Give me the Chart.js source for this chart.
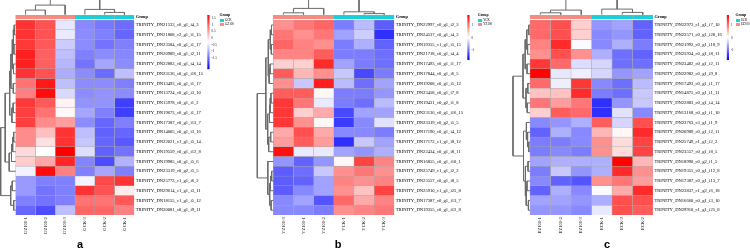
<!DOCTYPE html>
<html><head><meta charset="utf-8">
<script src="https://cdn.jsdelivr.net/npm/chart.js@4.4.1/dist/chart.umd.min.js"></script>
<style>
html,body{margin:0;padding:0;background:#fff;}
#wrap{position:relative;width:750px;height:249px;overflow:hidden;background:#fff;}
#wrap canvas{position:absolute;}
.txt{position:absolute;font-family:"Liberation Serif","Times New Roman",serif;white-space:nowrap;color:#000;}
.box{position:absolute;}
.letter{position:absolute;width:20px;text-align:center;font-family:"Liberation Sans",Arial,sans-serif;font-weight:bold;font-size:11px;line-height:11px;color:#000;}
</style></head><body><div id="wrap"></div>
<script>
// ---------------- DATA ----------------
const rowLabelsA = ["TRINITY_DN21533_c0_g1_i4_3","TRINITY_DN21808_c2_g1_i1_15","TRINITY_DN23584_c0_g1_i1_17","TRINITY_DN20989_c0_g1_i2_11","TRINITY_DN22883_c0_g1_i4_14","TRINITY_DN23136_c0_g1_i16_15","TRINITY_DN13493_c0_g1_i1_17","TRINITY_DN13724_c0_g1_i3_10","TRINITY_DN15978_c0_g1_i1_2","TRINITY_DN19673_c0_g1_i1_17","TRINITY_DN17387_c0_g1_i13_7","TRINITY_DN14005_c0_g1_i3_16","TRINITY_DN22021_c1_g1_i5_14","TRINITY_DN19559_c0_g1_i12_8","TRINITY_DN19985_c0_g1_i5_6","TRINITY_DN23319_c0_g2_i5_5","TRINITY_DN25773_c1_g1_i6_2","TRINITY_DN29614_c1_g1_i3_11","TRINITY_DN18155_c1_g1_i5_12","TRINITY_DN20081_c0_g1_i9_11"];
const colLabelsA = ["GZ100-1","GZ100-2","GZ100-3","GCK-3","GCK-2","GCK-1"];
const groupsA = ["GZ100","GZ100","GZ100","GCK","GCK","GCK"];
const legendA = ["GCK","GZ100"];
const valuesA = [
 [1.34,1.09,-0.50,-1.26,-1.40,-1.50],
 [1.34,1.09,-0.47,-1.24,-1.34,-1.55],
 [1.30,1.03,-0.72,-1.24,-1.44,-1.34],
 [1.50,0.97,-0.83,-1.34,-1.24,-1.28],
 [1.50,0.97,-0.89,-1.44,-1.03,-1.24],
 [1.34,1.09,-0.97,-1.24,-1.50,-0.83],
 [0.82,1.54,-0.83,-1.24,-1.24,-1.34],
 [0.72,1.65,-0.62,-1.24,-1.18,-1.24],
 [1.30,1.03,-0.21,-1.18,-1.18,-1.86],
 [1.24,0.82,-0.25,-1.03,-1.34,-1.86],
 [1.24,0.62,0.47,-1.24,-1.55,-1.34],
 [0.62,0.21,1.34,-0.83,-1.59,-1.55],
 [0.62,-0.06,1.34,-0.76,-1.55,-1.65],
 [0.00,-0.31,1.75,-0.58,-1.59,-1.44],
 [0.10,0.41,1.44,-1.30,-1.75,-0.93],
 [-0.41,1.65,0.72,-1.34,-1.03,-1.34],
 [-1.13,-1.34,-1.34,-0.41,1.17,1.34],
 [-1.13,-1.44,-1.34,1.34,1.09,-0.15],
 [-1.34,-1.44,-1.34,0.82,0.82,1.03],
 [-1.55,-1.75,-0.83,0.93,0.93,0.72]
];
const rowMergeA = [[-1,-2,1.5],[-3,-4,1.8],[1,2,2.6],[-5,-6,2.2],[3,4,3.4],[-7,-8,2.4],[5,6,4.8],[-9,-10,2.6],[8,-11,3.8],[7,9,6.0],[-12,-13,2.0],[11,-14,3.0],[12,-15,4.2],[13,-16,6.5],[10,14,10.5],[-17,-18,3.5],[-19,-20,2.0],[16,17,5.0],[15,18,15]];
const colMergeA = [[-1,-2,4.5],[1,-3,9.5],[-5,-6,2.2],[-4,3,5.2],[2,4,20]];
const scaleRangeA = [-2.37, 1.75];
const scaleTicksA = [1.5,1,0.5,0,-0.5,-1,-1.5];

const rowLabelsB = ["TRINITY_DN22997_c0_g1_i2_3","TRINITY_DN24537_c0_g1_i4_3","TRINITY_DN19355_c1_g1_i5_15","TRINITY_DN21718_c0_g1_i4_4","TRINITY_DN17493_c0_g1_i1_17","TRINITY_DN17844_c0_g1_i6_5","TRINITY_DN19208_c0_g1_i5_12","TRINITY_DN23458_c0_g1_i7_8","TRINITY_DN19431_c0_g2_i1_8","TRINITY_DN23136_c0_g1_i16_15","TRINITY_DN23319_c0_g2_i5_5","TRINITY_DN17190_c0_g1_i4_12","TRINITY_DN17172_c1_g1_i8_12","TRINITY_DN22434_c0_g1_i8_11","TRINITY_DN16855_c0_g1_i10_1","TRINITY_DN25749_c1_g1_i2_2","TRINITY_DN23557_c0_g1_i8_5","TRINITY_DN25910_c1_g1_i25_8","TRINITY_DN17387_c0_g1_i13_7","TRINITY_DN19355_c0_g1_i12_8"];
const colLabelsB = ["YZ100-3","YZ100-1","YZ100-2","YCK-1","YCK-2","YCK-3"];
const groupsB = ["YZ100","YZ100","YZ100","YCK","YCK","YCK"];
const legendB = ["YCK","YZ100"];
const valuesB = [
 [0.80,0.98,1.10,-0.89,-0.45,-1.10],
 [0.98,0.80,0.98,-0.62,-0.32,-1.42],
 [1.10,0.89,0.80,-0.89,-0.53,-1.07],
 [0.89,0.89,1.16,-0.89,-0.89,-0.98],
 [0.36,0.36,1.51,-0.62,-0.89,-0.98],
 [1.16,0.53,0.80,-0.36,-1.25,-0.89],
 [0.80,-0.36,1.60,-0.45,-0.98,-0.62],
 [1.16,1.16,0.09,-0.89,-0.89,-0.71],
 [1.42,0.98,-0.12,-0.89,-0.98,-0.45],
 [1.42,0.36,0.62,-1.25,-0.62,-0.62],
 [1.42,0.80,0.09,-1.34,-0.80,-0.18],
 [0.62,1.25,0.62,-0.80,-0.80,-0.89],
 [0.71,1.16,0.71,-1.42,-0.36,-0.62],
 [1.69,-0.12,-0.12,-0.62,-0.71,-0.53],
 [-0.71,-1.07,-0.71,0.09,1.34,0.89],
 [-1.10,-0.98,-0.36,0.80,0.98,0.80],
 [-1.10,-1.07,-0.62,0.89,0.80,0.89],
 [-1.10,-0.80,-0.62,0.80,0.45,1.34],
 [-0.80,-0.62,-1.16,1.07,0.62,0.89],
 [-0.80,-0.80,-0.89,0.80,0.89,0.98]
];
const rowMergeB = [[-1,-2,1.8],[-3,-4,2.0],[1,2,3.0],[-5,-6,3.2],[4,-7,4.2],[3,5,5.0],[-8,-9,2.4],[7,-10,3.2],[8,-11,3.8],[-12,-13,2.6],[10,-14,4.6],[9,11,5.6],[6,12,7.5],[-16,-17,1.6],[14,-18,2.8],[-19,-20,2.2],[15,16,3.6],[-15,17,5.5],[13,18,16]];
const colMergeB = [[-1,-2,1.8],[1,-3,6.2],[-5,-6,1.0],[-4,3,2.8],[2,4,20]];
const scaleRangeB = [-1.75, 1.8];
const scaleTicksB = [1,0,-1];

const rowLabelsC = ["TRINITY_DN22973_c1_g1_i7_10","TRINITY_DN23571_c0_g1_i28_16","TRINITY_DN21992_c0_g1_i18_9","TRINITY_DN25934_c0_g1_i8_11","TRINITY_DN23482_c0_g1_i2_11","TRINITY_DN22982_c0_g1_i9_8","TRINITY_DN17493_c0_g1_i1_17","TRINITY_DN14875_c0_g1_i1_11","TRINITY_DN22883_c0_g1_i4_14","TRINITY_DN13168_c0_g1_i1_10","TRINITY_DN23763_c3_g1_i1_9","TRINITY_DN20989_c0_g1_i2_11","TRINITY_DN25749_c1_g1_i2_2","TRINITY_DN23557_c0_g1_i8_5","TRINITY_DN18990_c0_g2_i1_5","TRINITY_DN19355_c0_g1_i12_8","TRINITY_DN17387_c0_g1_i13_7","TRINITY_DN23837_c1_g2_i6_18","TRINITY_DN16660_c0_g1_i3_10","TRINITY_DN29910_c1_g1_i25_8"];
const colLabelsC = ["EZ100-1","EZ100-2","EZ100-3","ECK-1","ECK-3","ECK-2"];
const groupsC = ["EZ100","EZ100","EZ100","ECK","ECK","ECK"];
const legendC = ["ECK","EZ100"];
const valuesC = [
 [1.07,1.25,0.36,-0.71,-0.62,-1.07],
 [1.07,1.25,0.36,-0.80,-0.71,-1.07],
 [0.89,1.51,0.00,-0.80,-0.53,-0.89],
 [0.80,1.25,0.80,-0.53,-0.98,-1.07],
 [1.42,1.07,-0.21,-0.27,-0.98,-0.98],
 [1.78,-0.14,-0.09,-0.27,-0.71,-0.62],
 [1.07,-0.09,1.42,-0.80,-0.98,-0.45],
 [0.45,0.45,1.51,-0.89,-0.98,-0.36],
 [0.98,0.71,0.98,-1.42,-0.71,-0.36],
 [0.36,1.16,1.07,-1.42,-0.18,-0.80],
 [-0.80,-0.71,-0.53,1.16,-0.27,1.25],
 [-1.07,-0.53,-0.80,0.53,0.09,1.51],
 [-0.89,-0.89,-0.80,0.80,0.27,1.34],
 [-0.89,-0.80,-0.89,0.80,0.27,1.34],
 [-0.62,-0.53,-0.53,-0.53,1.78,0.53],
 [-0.89,-0.36,-0.71,-0.53,1.51,0.80],
 [-0.80,-1.07,-1.16,0.80,0.98,0.71],
 [-1.07,-0.53,-0.80,0.00,0.62,1.51],
 [-0.62,-0.62,-0.71,-0.53,1.25,1.25],
 [-0.71,-0.71,-0.80,-0.12,1.25,1.16]
];
const rowMergeC = [[-1,-2,1.2],[-3,-4,2.4],[1,2,3.2],[-5,-6,3.0],[3,4,4.8],[-7,-8,2.2],[-9,-10,2.8],[6,7,4.0],[5,8,7.0],[-13,-14,1.2],[-12,10,2.4],[-11,11,3.6],[-15,-16,2.0],[-17,-18,3.0],[-19,-20,1.6],[14,15,3.8],[13,16,4.6],[12,17,6.5],[9,18,17]];
const colMergeC = [[-1,-2,1.8],[1,-3,4.5],[-5,-6,2.2],[-4,3,5.5],[2,4,20]];
const scaleRangeC = [-1.75, 1.8];
const scaleTicksC = [1,0,-1];

const panelLetters = ["a","b","c"];

// ---------------- STYLE / LAYOUT ----------------
const H = 249;
const BOTTOM_PX = 215.1, ROW_PX = 9.75, GROUP_TOP_PX = 15.3, GROUP_BOT_PX = 19.0, DENDRO_BASE_PX = 14.6;
const CTL_COLOR = '#19CFD8', TRT_COLOR = '#F68B7F';
const CELL_BORDER = '#a8a8a8', DENDRO_COLOR = '#6a6a6a';
const SERIF = "'Liberation Serif', 'Times New Roman', serif";
const wrap = document.getElementById('wrap');

function heatColor(v, lo, hi) {
  const mid = (lo + hi) / 2, half = (hi - lo) / 2;
  let t = Math.max(-1, Math.min(1, (v - mid) / half));
  if (t >= 0) { const c = Math.round(255 * (1 - t)); return `rgb(255,${c},${c})`; }
  const c = Math.round(255 * (1 + t)); return `rgb(${c},${c},255)`;
}

function dendroPaths(merges) {
  const pos = [], ht = [], paths = [];
  const nPos = k => k < 0 ? -k - 1 : pos[k - 1];
  const nH = k => k < 0 ? 0 : ht[k - 1];
  merges.forEach(([a, b, h], i) => {
    const pa = nPos(a), pb = nPos(b);
    paths.push([[pa, nH(a)], [pa, h], [pb, h], [pb, nH(b)]]);
    pos[i] = (pa + pb) / 2; ht[i] = h;
  });
  return paths;
}

function addCanvas(left, top, w, h) {
  const c = document.createElement('canvas');
  c.width = w; c.height = h;
  c.style.left = left + 'px'; c.style.top = top + 'px';
  c.style.width = w + 'px'; c.style.height = h + 'px';
  wrap.appendChild(c);
  return c;
}

function addText(text, x, yc, size, bold) {
  const d = document.createElement('div');
  d.className = 'txt';
  d.textContent = text;
  d.style.left = x + 'px';
  d.style.top = (yc - size / 2) + 'px';
  d.style.fontSize = size + 'px';
  d.style.lineHeight = size + 'px';
  if (bold) d.style.fontWeight = 'bold';
  wrap.appendChild(d);
}

function addBox(x, y, w, h, color) {
  const d = document.createElement('div');
  d.className = 'box';
  d.style.left = x + 'px'; d.style.top = y + 'px';
  d.style.width = w + 'px'; d.style.height = h + 'px';
  d.style.background = color;
  wrap.appendChild(d);
}

function makePanel(cfg) {
  const canvas = addCanvas(cfg.left, 0, cfg.width, H);
  const nCols = cfg.cols.length, nRows = cfg.rows.length;
  const colW = (cfg.cellsRight - cfg.cellsLeft) / nCols;
  const xMin = -(cfg.cellsLeft - cfg.left) / colW;
  const yAxisW = cfg.width - (cfg.cellsRight - cfg.left);
  const pxToY = px => (BOTTOM_PX - px) / ROW_PX;
  const yMax = pxToY(0);
  const gy0 = pxToY(GROUP_BOT_PX), gy1 = pxToY(GROUP_TOP_PX);
  const dBase = pxToY(DENDRO_BASE_PX);
  const datasets = [];
  cfg.cols.forEach((c, j) => {
    datasets.push({
      type: 'bar', order: 2,
      data: cfg.rows.map((_, i) => ({ x: j + 0.5, y: [nRows - 1 - i, nRows - i] })),
      backgroundColor: cfg.values.map(row => heatColor(row[j], cfg.lo, cfg.hi)),
      borderColor: CELL_BORDER, borderWidth: 0.5, borderSkipped: false,
      grouped: false, barPercentage: 1, categoryPercentage: 1
    });
  });
  datasets.push({
    type: 'bar', order: 2,
    data: cfg.groups.map((g, j) => ({ x: j + 0.5, y: [gy0, gy1] })),
    backgroundColor: cfg.groups.map(g => g === cfg.legend[0] ? CTL_COLOR : TRT_COLOR),
    borderColor: CELL_BORDER, borderWidth: 0.4, borderSkipped: false,
    grouped: false, barPercentage: 1, categoryPercentage: 1
  });
  const lineDs = pts => ({ type: 'line', order: 1, data: pts, borderColor: DENDRO_COLOR, backgroundColor: DENDRO_COLOR,
    borderWidth: 1, pointRadius: 0, pointHoverRadius: 0, fill: false, tension: 0, spanGaps: false });
  dendroPaths(cfg.rowMerges).forEach(path =>
    datasets.push(lineDs(path.map(([p, h]) => ({ x: -h / colW, y: nRows - 0.5 - p })))));
  dendroPaths(cfg.colMerges).forEach(path =>
    datasets.push(lineDs(path.map(([p, h]) => ({ x: p + 0.5, y: dBase + h / ROW_PX })))));

  const labelFont = { family: SERIF, size: 4.6 };
  new Chart(canvas, {
    type: 'bar',
    data: { datasets },
    options: {
      responsive: false, animation: false, events: [], devicePixelRatio: 1,
      layout: { padding: 0 },
      plugins: { legend: { display: false }, tooltip: { enabled: false } },
      scales: {
        x: {
          type: 'linear', min: xMin, max: nCols, offset: false, position: 'bottom',
          grid: { display: false, drawTicks: false }, border: { display: false },
          afterBuildTicks: s => { s.ticks = cfg.cols.map((_, j) => ({ value: j + 0.5 })); },
          ticks: { autoSkip: false, minRotation: 90, maxRotation: 90, padding: 2, color: '#000',
            font: labelFont, callback: (v, i) => cfg.cols[i] },
          afterFit: s => { s.height = H - BOTTOM_PX; s.paddingLeft = 0; s.paddingRight = 0; }
        },
        y: {
          type: 'linear', min: 0, max: yMax, position: 'right',
          grid: { display: false, drawTicks: false }, border: { display: false },
          afterBuildTicks: s => {
            s.ticks = cfg.rows.map((_, i) => ({ value: nRows - 0.5 - i })).concat([{ value: (gy0 + gy1) / 2 }]);
          },
          ticks: { autoSkip: false, padding: 1.5, color: '#000',
            font: ctx => ctx.index === nRows ? { family: SERIF, size: 4.3, weight: 'bold' } : labelFont,
            callback: (v, i) => i < nRows ? cfg.rows[i] : 'Group' },
          afterFit: s => { s.width = yAxisW; s.paddingTop = 0; s.paddingBottom = 0; }
        }
      }
    }
  });

  // colour key
  const cb = cfg.colorbar;
  const cbW = 26, cbH = 80;
  const cbCanvas = addCanvas(cb.left, 0, cbW, cbH);
  new Chart(cbCanvas, {
    type: 'bar',
    data: { labels: [''], datasets: [{
      data: [[cfg.lo, cfg.hi]], borderWidth: 0, barPercentage: 1, categoryPercentage: 1,
      backgroundColor: ctx => {
        const ch = ctx.chart, a = ch.chartArea;
        if (!a) return '#fff';
        const g = ch.ctx.createLinearGradient(0, a.bottom, 0, a.top);
        g.addColorStop(0, 'rgb(0,0,255)'); g.addColorStop(0.5, '#ffffff'); g.addColorStop(1, 'rgb(255,0,0)');
        return g;
      }
    }] },
    options: {
      responsive: false, animation: false, events: [], devicePixelRatio: 1,
      layout: { padding: { left: cb.padLeft, top: cb.topPx, bottom: cbH - cb.bottomPx, right: 0 } },
      plugins: { legend: { display: false }, tooltip: { enabled: false } },
      scales: {
        x: { display: false },
        y: {
          position: 'right', min: cfg.lo, max: cfg.hi,
          grid: { display: false, drawTicks: false }, border: { display: false },
          afterBuildTicks: s => { s.ticks = cfg.ticks.map(v => ({ value: v })); },
          ticks: { autoSkip: false, padding: 2, color: '#222', font: { family: SERIF, size: 3.3 },
            callback: v => String(v) },
          afterFit: s => { s.width = cbW - cb.padLeft - cb.barW; s.paddingTop = 0; s.paddingBottom = 0; }
        }
      }
    }
  });

  // group legend
  const gx = cfg.legendX;
  addText('Group', gx, 15.6, 3.8, true);
  addBox(gx, 18.9, 4.7, 3.6, CTL_COLOR);
  addBox(gx, 22.5, 4.7, 3.6, TRT_COLOR);
  addText(cfg.legend[0], gx + 5.4, 20.7, 3.2, false);
  addText(cfg.legend[1], gx + 5.4, 24.3, 3.2, false);

  // panel letter
  const L = document.createElement('div');
  L.className = 'letter';
  L.textContent = cfg.letter;
  L.style.left = (cfg.letterX - 10) + 'px';
  L.style.top = '238.6px';
  wrap.appendChild(L);
}

makePanel({ left: 0, width: 205, cellsLeft: 15.7, cellsRight: 134.3,
  rows: rowLabelsA, cols: colLabelsA, groups: groupsA, legend: legendA, values: valuesA,
  rowMerges: rowMergeA, colMerges: colMergeA, lo: scaleRangeA[0], hi: scaleRangeA[1], ticks: scaleTicksA,
  colorbar: { left: 205, padLeft: 2.3, barW: 2.3, topPx: 15, bottomPx: 69.3 },
  legendX: 219.5, letter: panelLetters[0], letterX: 80 });

makePanel({ left: 256, width: 209, cellsLeft: 273.3, cellsRight: 394.3,
  rows: rowLabelsB, cols: colLabelsB, groups: groupsB, legend: legendB, values: valuesB,
  rowMerges: rowMergeB, colMerges: colMergeB, lo: scaleRangeB[0], hi: scaleRangeB[1], ticks: scaleTicksB,
  colorbar: { left: 465, padLeft: 2.3, barW: 2.3, topPx: 15, bottomPx: 60 },
  legendX: 477.8, letter: panelLetters[1], letterX: 338 });

makePanel({ left: 512, width: 211, cellsLeft: 530, cellsRight: 653,
  rows: rowLabelsC, cols: colLabelsC, groups: groupsC, legend: legendC, values: valuesC,
  rowMerges: rowMergeC, colMerges: colMergeC, lo: scaleRangeC[0], hi: scaleRangeC[1], ticks: scaleTicksC,
  colorbar: { left: 724, padLeft: 2.7, barW: 2.3, topPx: 15, bottomPx: 60 },
  legendX: 735.5, letter: panelLetters[2], letterX: 607 });
</script>
</body></html>
